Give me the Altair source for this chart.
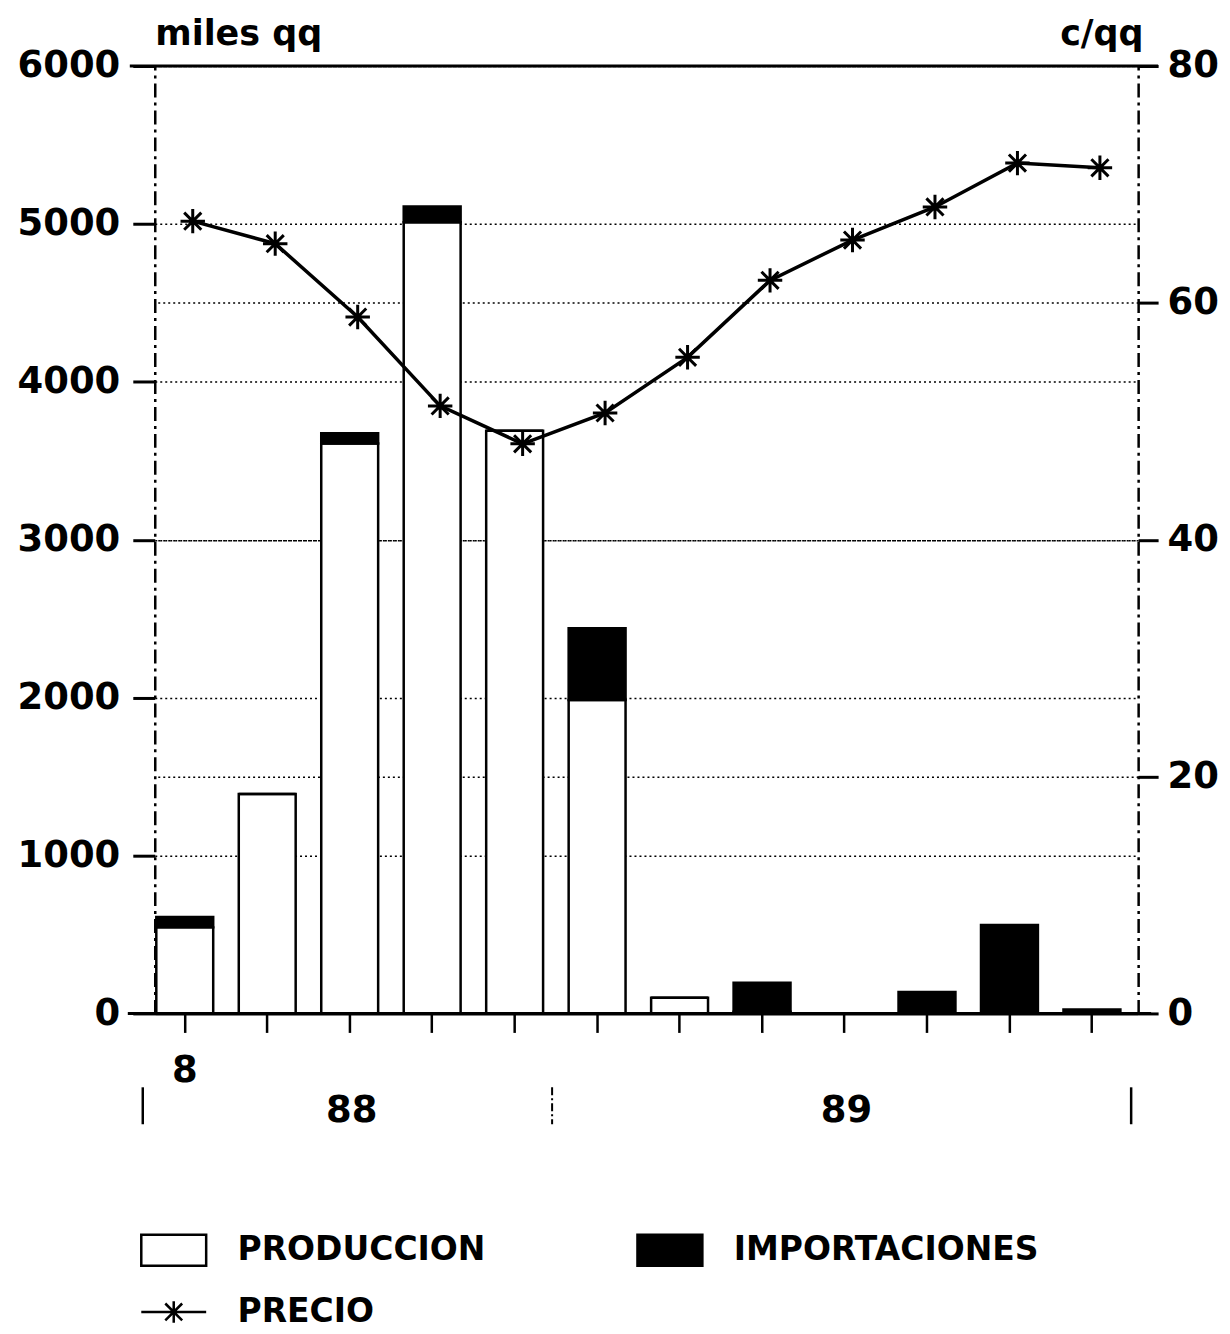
import altair as alt
import pandas as pd

# ---- data ----
meses = ["8", "9", "10", "11", "12", "1", "2", "3", "4", "5", "6", "7"]
produccion = [545, 1390, 3610, 5010, 3690, 1985, 100, 10, 0, 0, 0, 0]
importaciones = [65, 0, 65, 100, 0, 455, 0, 185, 0, 135, 560, 25]
precio = [66.9, 65.0, 58.8, 51.3, 48.1, 50.7, 55.4, 61.9, 65.3, 68.1, 71.8, 71.4]
series = ["PRODUCCION", "IMPORTACIONES"]
colores = ["white", "black"]
left_ticks = [0, 1000, 2000, 3000, 4000, 5000, 6000]
right_ticks = [0, 20, 40, 60, 80]
anio_mes = ["10", "4"]
anios = ["88", "89"]

rows = []
for i, m in enumerate(meses):
    rows.append({"mes": m, "serie": series[0], "orden": 0, "valor": produccion[i]})
    rows.append({"mes": m, "serie": series[1], "orden": 1, "valor": importaciones[i]})
bars_df = pd.DataFrame(rows)
price_df = pd.DataFrame({"mes": meses, "precio": precio, "leyenda": ["PRECIO"] * len(meses)})
years_df = pd.DataFrame({"mes": anio_mes, "label": anios})
dummy = pd.DataFrame({"k": [0]})

FONT = "DejaVu Sans"
W, H = 985, 949
ASTER = "M-1,0H1M0,-1V1M-0.7,-0.7L0.7,0.7M-0.7,0.7L0.7,-0.7"
RECT = "M-1,-0.48H1V0.48H-1Z"
LINE_ASTER = "M-1,0H1M0,-0.33V0.33M-0.26,-0.26L0.26,0.26M-0.26,0.26L0.26,-0.26"

x_scale = alt.Scale(domain=meses, paddingInner=0.31, paddingOuter=0.117, align=0.08)
x_axis = alt.Axis(
    title=None, labelExpr="datum.value == '8' ? '8' : ''", labelAngle=0,
    tickSize=19, tickWidth=2.5, tickColor="black", domainColor="black", domainWidth=3,
    labelFont=FONT, labelFontSize=37, labelFontWeight="bold", labelColor="black",
    labelPadding=20, grid=False,
)
X = alt.X("mes:N", scale=x_scale, axis=x_axis, sort=meses)

left_axis = alt.Axis(
    values=left_ticks, format="d", orient="left", title="miles qq", titleAngle=0, titleAlign="left",
    titleBaseline="alphabetic", titleX=0, titleY=-22, titleFont=FONT, titleFontSize=35,
    titleFontWeight="bold", titleColor="black",
    labelFont=FONT, labelFontSize=37, labelFontWeight="bold", labelColor="black",
    labelPadding=13, tickSize=22, tickWidth=3, tickColor="black",
    domainColor="black", domainWidth=2.5, domainDash=[14, 5, 3, 5],
    grid=True, gridColor="black", gridDash=[2, 3], gridWidth=1.5,
)
right_axis = alt.Axis(
    values=right_ticks, format="d", orient="right", title="c/qq", titleAngle=0, titleAlign="right",
    titleBaseline="alphabetic", titleX=5, titleY=-22, titleFont=FONT, titleFontSize=35,
    titleFontWeight="bold", titleColor="black",
    labelFont=FONT, labelFontSize=37, labelFontWeight="bold", labelColor="black",
    labelPadding=9, tickSize=20, tickWidth=3, tickColor="black",
    domainColor="black", domainWidth=2.5, domainDash=[14, 5, 3, 5],
    grid=True, gridColor="black", gridDash=[2, 3], gridWidth=1.5,
)

fill_legend = alt.Legend(
    title=None, orient="none", legendX=-15, legendY=1152, columns=2, columnPadding=146,
    symbolType=RECT, symbolSize=4225, symbolStrokeColor="black", symbolStrokeWidth=2.5,
    labelFont=FONT, labelFontSize=33, labelFontWeight="bold", labelColor="black",
    labelOffset=30, labelLimit=0, padding=0,
)
line_legend = alt.Legend(
    title=None, orient="none", legendX=-15, legendY=1214,
    symbolType=LINE_ASTER, symbolSize=4225, symbolStrokeWidth=2.5, symbolStrokeColor="black",
    labelFont=FONT, labelFontSize=33, labelFontWeight="bold", labelColor="black",
    labelOffset=30, labelLimit=0, padding=0,
)

bars = alt.Chart(bars_df).mark_bar(stroke="black", strokeWidth=2.5).encode(
    x=X,
    y=alt.Y("valor:Q", stack="zero", scale=alt.Scale(domain=[0, 6000], nice=False), axis=left_axis),
    fill=alt.Fill("serie:N", scale=alt.Scale(domain=series, range=colores), legend=fill_legend),
    order=alt.Order("orden:Q", sort="ascending"),
)

price_y_scale = alt.Scale(domain=[0, 80], nice=False)
line = alt.Chart(price_df).mark_line(strokeWidth=3.5, xOffset=8).encode(
    x=X,
    y=alt.Y("precio:Q", scale=price_y_scale, axis=right_axis),
    stroke=alt.Stroke("leyenda:N", scale=alt.Scale(domain=["PRECIO"], range=["black"]), legend=line_legend),
)
points = alt.Chart(price_df).mark_point(
    shape=ASTER, size=600, filled=False, stroke="black", strokeWidth=3, opacity=1, xOffset=8
).encode(
    x=X,
    y=alt.Y("precio:Q", scale=price_y_scale, axis=right_axis),
)
price = alt.layer(line, points)

years = alt.Chart(years_df).mark_text(
    font=FONT, fontSize=37, fontWeight="bold", baseline="middle", align="center", dx=2, color="black"
).encode(x=X, y=alt.value(1047), text="label:N")

top_rule = alt.Chart(dummy).mark_rule(strokeWidth=3, color="black").encode(
    x=alt.value(-25), x2=alt.value(W + 20), y=alt.value(0))
sep1 = alt.Chart(dummy).mark_rule(strokeWidth=2.5, color="black").encode(
    x=alt.value(-12), y=alt.value(1023), y2=alt.value(1060))
sep2 = alt.Chart(dummy).mark_rule(strokeWidth=2, color="black", strokeDash=[8, 3, 2, 3]).encode(
    x=alt.value(398), y=alt.value(1023), y2=alt.value(1060))
sep3 = alt.Chart(dummy).mark_rule(strokeWidth=2.5, color="black").encode(
    x=alt.value(978), y=alt.value(1023), y2=alt.value(1060))
bottom_rule = alt.Chart(dummy).mark_rule(strokeWidth=3, color="black").encode(
    x=alt.value(-27), x2=alt.value(W + 13), y=alt.value(H))

chart = alt.layer(bars, price, years, top_rule, bottom_rule, sep1, sep2, sep3).resolve_scale(
    y="independent"
).properties(
    width=W, height=H,
    padding={"left": 147, "top": 57, "right": 84, "bottom": 318},
    autosize=alt.AutoSizeParams(type="none"),
    background="white",
).configure_view(stroke=None)

chart.save("out.html", embed_options={"renderer": "svg", "actions": False})
